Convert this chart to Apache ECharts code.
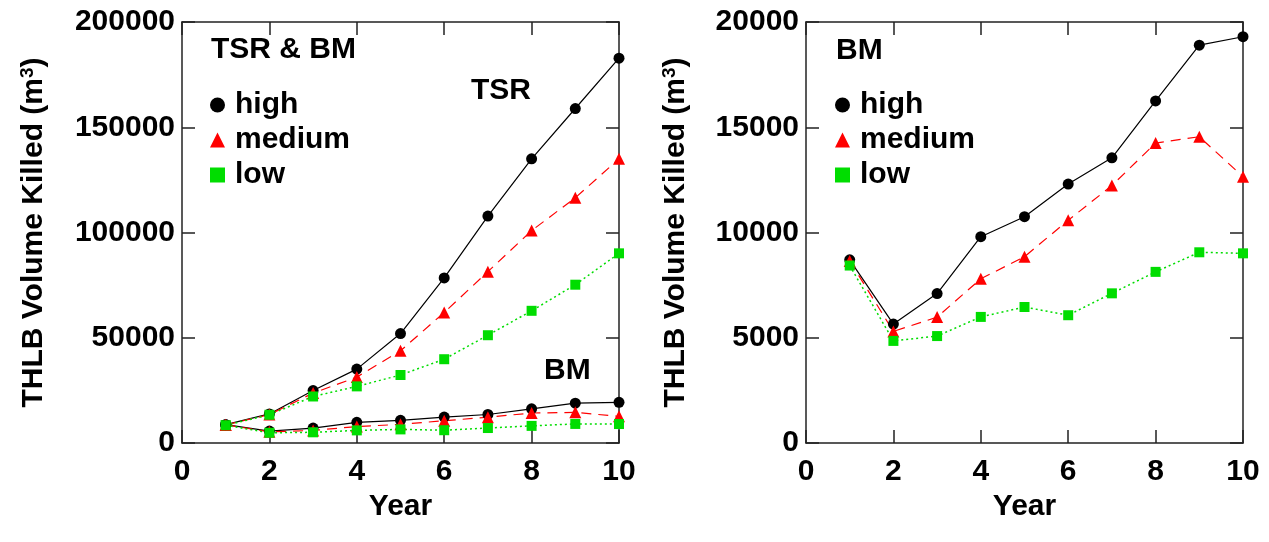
<!DOCTYPE html>
<html>
<head>
<meta charset="utf-8" />
<title>THLB Volume Killed</title>
<script src="https://cdn.jsdelivr.net/npm/echarts@6/dist/echarts.min.js"></script>
<style>
  html, body { margin: 0; padding: 0; background: #fff; }
  #main { width: 1269px; height: 542px; }
</style>
</head>
<body>
<div id="main"></div>
<script>
// years on the x axis
var years = [1, 2, 3, 4, 5, 6, 7, 8, 9, 10];

// TSR & BM treatment
var tsrHigh   = [8700, 13800, 24900, 35100, 52000, 78400, 107800, 135000, 158900, 182800];
var tsrMedium = [8600, 13500, 23700, 31300, 43800, 62000, 81400, 100900, 116500, 135000];
var tsrLow    = [8400, 13400, 22100, 26900, 32300, 39800, 51200, 62800, 75200, 90100];

// BM only
var bmHigh   = [8700, 5650, 7100, 9800, 10750, 12300, 13550, 16250, 18900, 19300];
var bmMedium = [8650, 5300, 5980, 7800, 8850, 10580, 12230, 14250, 14550, 12650];
var bmLow    = [8430, 4850, 5080, 5990, 6460, 6070, 7110, 8130, 9060, 9010];

var FONT = "'Liberation Sans', Arial, sans-serif";
var FS = 30;
var GREEN = '#00dd00';

function pairs(ys) {
  return years.map(function (x, i) { return [x, ys[i]]; });
}

// line styles per level
var styles = {
  high:   { color: '#000', symbol: 'circle', size: 11, line: { color: '#000', width: 1.2, type: 'solid' } },
  medium: { color: '#ff0000', symbol: 'triangle', size: 12, line: { color: '#ff0000', width: 1.2, type: [10, 7] } },
  low:    { color: GREEN, symbol: 'rect', size: 10, line: { color: GREEN, width: 1.5, type: [2, 3] } }
};

function mkSeries(name, ys, axis) {
  var s = styles[name];
  return {
    name: name,
    type: 'line',
    xAxisIndex: axis,
    yAxisIndex: axis,
    data: pairs(ys),
    symbol: s.symbol,
    symbolSize: s.size,
    showAllSymbol: true,
    itemStyle: { color: s.color },
    lineStyle: s.line,
    animation: false
  };
}

var axisLine = { show: true, onZero: false, lineStyle: { color: '#222', width: 1.5 } };
var tickIn = { show: true, inside: true, length: 13, lineStyle: { color: '#222', width: 1.5 } };
var labelStyle = { fontFamily: FONT, fontWeight: 'bold', fontSize: FS, color: '#000' };
var plain = function (v) { return String(v); };

function xMain(grid) {
  return {
    type: 'value', gridIndex: grid, min: 0, max: 10, interval: 2,
    axisLine: axisLine, axisTick: tickIn, splitLine: { show: false },
    axisLabel: Object.assign({ margin: 14, formatter: plain }, labelStyle),
    name: 'Year', nameLocation: 'middle', nameGap: 49,
    nameTextStyle: { fontFamily: FONT, fontWeight: 'bold', fontSize: FS, color: '#000' }
  };
}
function xMirror(grid) {
  return {
    type: 'value', gridIndex: grid, min: 0, max: 10, interval: 2, position: 'top',
    axisLine: axisLine, axisTick: tickIn, axisLabel: { show: false }, splitLine: { show: false }
  };
}
function yMain(grid, max, step, gap) {
  return {
    type: 'value', gridIndex: grid, min: 0, max: max, interval: step,
    axisLine: axisLine, axisTick: tickIn, splitLine: { show: false },
    axisLabel: Object.assign({ margin: 7, formatter: plain }, labelStyle),
    name: '{a|THLB Volume Killed (m}{s|3}{a|)}', nameLocation: 'middle', nameGap: gap,
    nameTextStyle: {
      rich: {
        a: { fontFamily: FONT, fontWeight: 'bold', fontSize: FS, color: '#000' },
        s: { fontFamily: FONT, fontWeight: 'bold', fontSize: 19, color: '#000', verticalAlign: 'top', padding: [0, 0, 12, 0] }
      }
    }
  };
}
function yMirror(grid, max, step) {
  return {
    type: 'value', gridIndex: grid, min: 0, max: max, interval: step, position: 'right',
    axisLine: axisLine, axisTick: tickIn, axisLabel: { show: false }, splitLine: { show: false }
  };
}

var legendText = { fontFamily: FONT, fontWeight: 'bold', fontSize: FS, color: '#000', padding: [0, 0, 0, 5] };
function mkLegend(left) {
  return {
    orient: 'vertical', left: left, top: 85, itemGap: 5,
    itemWidth: 15, itemHeight: 15, selectedMode: false,
    textStyle: legendText,
    data: [
      { name: 'high', icon: 'circle', itemStyle: { color: '#000' } },
      { name: 'medium', icon: 'triangle', itemStyle: { color: '#ff0000' } },
      { name: 'low', icon: 'rect', itemStyle: { color: GREEN } }
    ]
  };
}

function mkText(x, y, txt) {
  return {
    type: 'text', left: x, top: y,
    style: { text: txt, fill: '#000', font: 'bold ' + FS + 'px ' + FONT }
  };
}

var chart = echarts.init(document.getElementById('main'));
chart.setOption({
  animation: false,
  grid: [
    { left: 182, top: 22, width: 437, height: 421 },
    { left: 806, top: 22, width: 437, height: 421 }
  ],
  xAxis: [xMain(0), xMain(1), xMirror(0), xMirror(1)],
  yAxis: [yMain(0, 200000, 50000, 133), yMain(1, 20000, 5000, 115), yMirror(0, 200000, 50000), yMirror(1, 20000, 5000)],
  legend: [mkLegend(205), mkLegend(830)],
  graphic: [
    mkText(211, 35, 'TSR & BM'),
    mkText(471, 76, 'TSR'),
    mkText(544, 356, 'BM'),
    mkText(836, 36, 'BM')
  ],
  series: [
    mkSeries('high', tsrHigh, 0),
    mkSeries('medium', tsrMedium, 0),
    mkSeries('low', tsrLow, 0),
    mkSeries('high', bmHigh, 0),
    mkSeries('medium', bmMedium, 0),
    mkSeries('low', bmLow, 0),
    mkSeries('high', bmHigh, 1),
    mkSeries('medium', bmMedium, 1),
    mkSeries('low', bmLow, 1)
  ]
});
</script>
</body>
</html>
